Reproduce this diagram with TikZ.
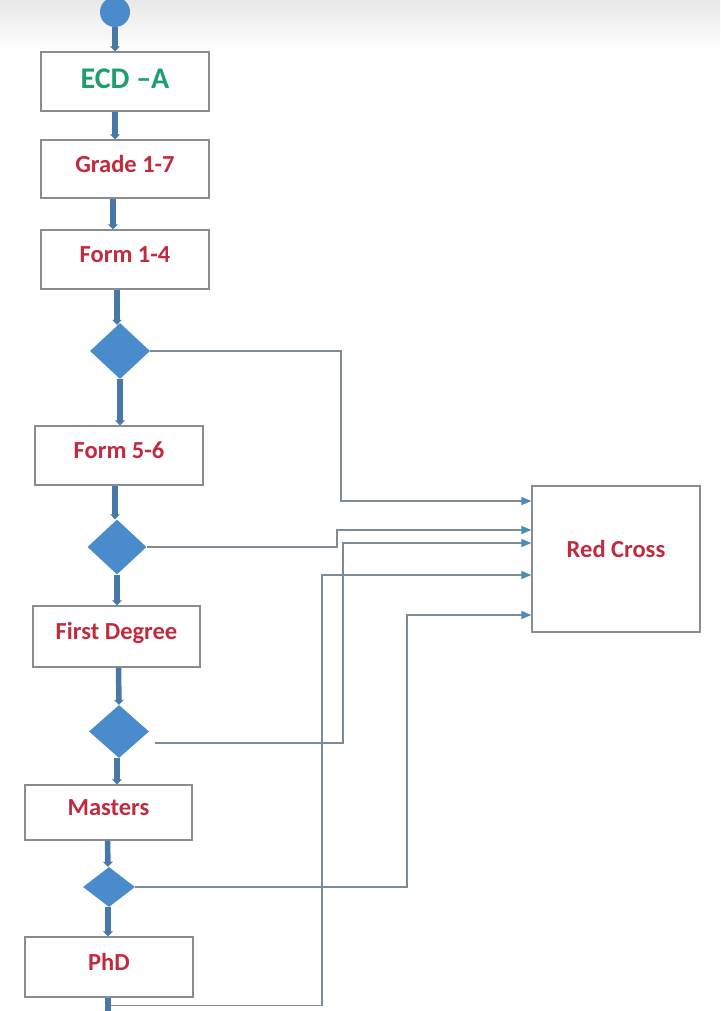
\documentclass[tikz,border=0pt]{standalone}
\usepackage{fontspec}
\setmainfont{Carlito}
\usetikzlibrary{shapes.geometric,arrows.meta}
\definecolor{boxline}{HTML}{8A8C8E}
\definecolor{dblue}{HTML}{4A8CCB}
\definecolor{flowblue}{HTML}{4778A8}
\definecolor{feedgray}{HTML}{7E8A94}
\definecolor{tipblue}{HTML}{4C8DB8}
\definecolor{redtxt}{HTML}{C22A40}
\definecolor{greentxt}{HTML}{1F9E6C}
\begin{document}
\begin{tikzpicture}[x=1pt,y=-1pt,
  stepbox/.style={draw=boxline,line width=1.2pt,fill=white,rectangle,inner sep=0pt,
    font=\fontsize{24.5}{28}\selectfont\bfseries,text=redtxt,text height=17pt,text depth=11pt},
  decision/.style={diamond,fill=dblue,draw=none,inner sep=0pt},
  flowline/.style={draw=flowblue,line width=5.5pt,-{Triangle[width=9.5pt,length=5pt]}},
  feed/.style={draw=feedgray,line width=1.3pt,-{Triangle[width=8pt,length=10pt,color=tipblue]}}]
\useasboundingbox (0,0) rectangle (720,1011);
\shade[top color=black!9,bottom color=white] (0,0) rectangle (720,50);

\node[circle,fill=dblue,minimum size=30pt,inner sep=0pt] (start) at (115,12) {};
\node[stepbox,minimum width=168pt,minimum height=59pt,text=greentxt,
  font=\fontsize{30}{34}\selectfont\bfseries,text height=21pt,text depth=6.7pt] (ecd) at (125,81.5) {ECD –A};
\node[stepbox,minimum width=168pt,minimum height=58pt] (grade) at (125,169) {Grade 1-7};
\node[stepbox,minimum width=168pt,minimum height=59pt] (form14) at (125,259.5) {Form 1-4};
\node[decision,minimum width=60pt,minimum height=56pt] (d1) at (120,351) {};
\node[stepbox,minimum width=168pt,minimum height=59pt] (form56) at (119,455.5) {Form 5-6};
\node[decision,minimum width=59pt,minimum height=55pt] (d2) at (117,547) {};
\node[stepbox,minimum width=167pt,minimum height=61pt] (first) at (116.5,636.5) {First Degree};
\node[decision,minimum width=60pt,minimum height=53pt] (d3) at (119,731.5) {};
\node[stepbox,minimum width=167pt,minimum height=55pt] (masters) at (108.5,812.5) {Masters};
\node[decision,minimum width=52pt,minimum height=40pt] (d4) at (109,887) {};
\node[stepbox,minimum width=168pt,minimum height=60pt] (phd) at (109,967) {PhD};
\node[stepbox,minimum width=168pt,minimum height=146pt,
  label={[font=\fontsize{24.5}{28}\selectfont\bfseries,text=redtxt,yshift=10pt]center:Red Cross}] (redcross) at (616,559) {};
\coordinate (bottomend) at (108,1012);

% feedback connectors to Red Cross
\draw[feed] (d1.east) -| (341,501) -- ([yshift=58pt]redcross.west);
\draw[feed] (d2.east) -| (337,530) -- ([yshift=29pt]redcross.west);
\draw[feed] ([xshift=6pt,yshift=-11.5pt]d3.east) -| (343,543) -- ([yshift=16pt]redcross.west);
\draw[feed] ([xshift=-1pt,yshift=-8pt]phd.south) -| (322,575) -- ([yshift=-16pt]redcross.west);
\draw[feed] (d4.east) -| (407,615) -- ([yshift=-56pt]redcross.west);

% main flow
\draw[flowline] (start.south) -- ([xshift=-10pt]ecd.north);
\draw[flowline] ([xshift=-10pt]ecd.south) -- ([xshift=-10pt]grade.north);
\draw[flowline] ([xshift=-12pt]grade.south) -- ([xshift=-12pt]form14.north);
\draw[flowline] ([xshift=-8pt]form14.south) -- ([xshift=-3pt,yshift=-2pt]d1.north);
\draw[flowline] (d1.south) -- (d1.south |- form56.north);
\draw[flowline] ([xshift=-4pt]form56.south) -- ([xshift=-2pt]d2.north);
\draw[flowline] (d2.south) -- (d2.south |- first.north);
\draw[flowline] ([xshift=2pt]first.south) -- (d3.north);
\draw[flowline] ([xshift=-2pt]d3.south) -- ([xshift=-2pt]d3.south |- masters.north);
\draw[flowline] ([xshift=-1pt]masters.south) -- ([xshift=-1pt]d4.north);
\draw[flowline] ([xshift=-1pt]d4.south) -- ([xshift=-1pt]d4.south |- phd.north);
\draw[draw=flowblue,line width=5.5pt] ([xshift=-1pt]phd.south) -- (bottomend);
\end{tikzpicture}
\end{document}
